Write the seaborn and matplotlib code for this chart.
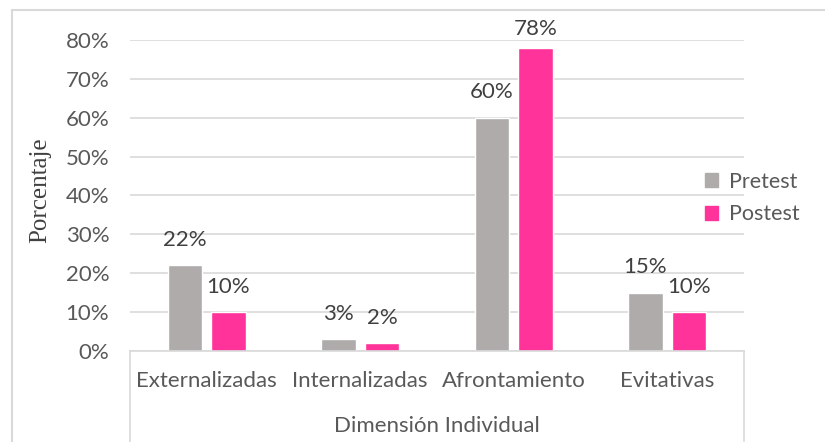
import matplotlib
matplotlib.use("Agg")
import matplotlib.pyplot as plt
import numpy as np
import pandas as pd
import seaborn as sns
from matplotlib.patches import Rectangle
from matplotlib.lines import Line2D

categories = ["Externalizadas", "Internalizadas", "Afrontamiento", "Evitativas"]
pretest = [22, 3, 60, 15]
postest = [10, 2, 78, 10]
series_names = ["Pretest", "Postest"]
colors = ["#AFABAB", "#FF3399"]

df = pd.DataFrame({
    "categoria": categories * 2,
    "valor": pretest + postest,
    "serie": [series_names[0]] * len(categories) + [series_names[1]] * len(categories),
})

sns.set_theme(style="white")
plt.rcParams["font.family"] = ["Lato", "DejaVu Sans"]
text_col = "#595959"
grid_col = "#D9D9D9"
fs = 16

fig = plt.figure(figsize=(8.25, 4.42), dpi=100)
ax = fig.add_axes([130 / 825, 1 - 351 / 442, (744 - 130) / 825, (351 - 40) / 442])

sns.barplot(data=df, x="categoria", y="valor", hue="serie", palette=colors,
            width=0.567, gap=0.2, ax=ax, legend=False, saturation=1)

ax.set_ylim(0, 80)
ax.set_xlim(-0.5, 3.5)
ax.set_yticks(np.arange(0, 81, 10))
ax.set_yticklabels([f"{v}%" for v in range(0, 81, 10)], fontsize=fs, color=text_col)
ax.set_xticks([])
ax.set_xlabel("")
ax.set_ylabel("")
ax.yaxis.grid(True, color=grid_col, linewidth=1.2)
ax.set_axisbelow(True)
ax.tick_params(axis="y", length=0, pad=15)
for s in ["left", "right", "top"]:
    ax.spines[s].set_visible(False)
ax.spines["bottom"].set_color(grid_col)
ax.spines["bottom"].set_linewidth(1.2)

# data labels, kept inside the chart area near the top (like Excel)
for cont in ax.containers:
    for bar, v in zip(cont, cont.datavalues):
        pad = 11 if v < 70 else 6
        ax.annotate(f"{v:.0f}%", (bar.get_x() + bar.get_width() / 2, v),
                    xytext=(0, pad), textcoords="offset points", ha="center",
                    va="bottom", fontsize=fs, color="#404040", annotation_clip=False)

# category labels (multi-level axis)
for i, c in enumerate(categories):
    ax.text(i, -0.095, c, transform=ax.get_xaxis_transform(), ha="center", va="center",
            fontsize=fs, color=text_col)
fig.text((130 + 744) / 2 / 825, 1 - 426 / 442, "Dimensión Individual", ha="center",
         va="center", fontsize=fs, color=text_col)
for xp in [130, 744]:
    fig.add_artist(Line2D([xp / 825, xp / 825], [1 - 351 / 442, 0], color=grid_col,
                          linewidth=1.2))

fig.text(40 / 825, 1 - 190 / 442, "Porcentaje", rotation=90, ha="center", va="center",
         fontsize=18, color="#404040", family="Liberation Serif")

handles = [Rectangle((0, 0), 1, 1, color=c) for c in colors]
fig.legend(handles, series_names, loc="center left", bbox_to_anchor=(705 / 825, 1 - 198 / 442),
           frameon=False, fontsize=15.5, handlelength=0.6, handleheight=0.6,
           handletextpad=0.5, labelspacing=0.6, labelcolor=text_col,
           borderpad=0, borderaxespad=0)

# outer chart border (left and top visible)
fig.add_artist(Rectangle((12 / 825, -0.1), 1.2, 1 - 10 / 442 + 0.1, fill=False,
                         edgecolor=grid_col, linewidth=1.5, transform=fig.transFigure))

fig.savefig("out.png", dpi=100)
